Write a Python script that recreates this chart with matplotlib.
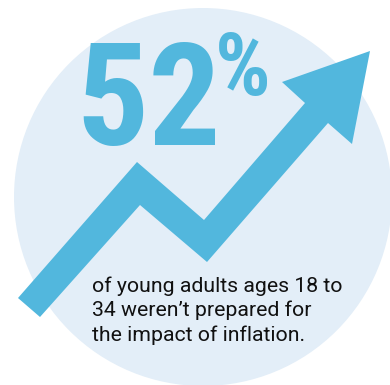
import matplotlib.pyplot as plt
from matplotlib.patches import Circle, Polygon

# 数据
stat_value = "52"
stat_unit = "%"
caption_lines = ["of young adults ages 18 to",
                 "34 weren\u2019t prepared for",
                 "the impact of inflation."]

# 箭头轮廓 (像素坐标, y 向下)
arrow_x = [18, 137, 204, 305, 282, 370, 352, 328, 207, 140, 40]
arrow_y = [298, 162, 220, 103, 82, 51, 144, 123, 262, 205, 317]

circle_color = '#E3EEF8'
arrow_color = '#52B7DD'

plt.rcParams['font.family'] = ['Roboto Condensed', 'Archivo Narrow', 'DejaVu Sans']

fig = plt.figure(figsize=(3.9, 3.85), dpi=100)
ax = fig.add_axes([0, 0, 1, 1])
ax.set_xlim(0, 390)
ax.set_ylim(385, 0)
ax.axis('off')

ax.add_patch(Circle((203, 197), 189, color=circle_color, lw=0))
ax.add_patch(Polygon(list(zip(arrow_x, arrow_y)), closed=True,
                     color=arrow_color, lw=0))

ax.text(76, 145, stat_value, fontsize=103, fontweight='bold',
        color=arrow_color, va='baseline', ha='left')
ax.text(215, 95, stat_unit, fontsize=63, fontweight='bold',
        color=arrow_color, va='baseline', ha='left')

for i, line in enumerate(caption_lines):
    ax.text(92, 292 + i * 24.5, line, fontsize=15.3, color='#111111',
            va='baseline', ha='left', family=['Roboto', 'DejaVu Sans'])

fig.savefig('out.png', dpi=100)
